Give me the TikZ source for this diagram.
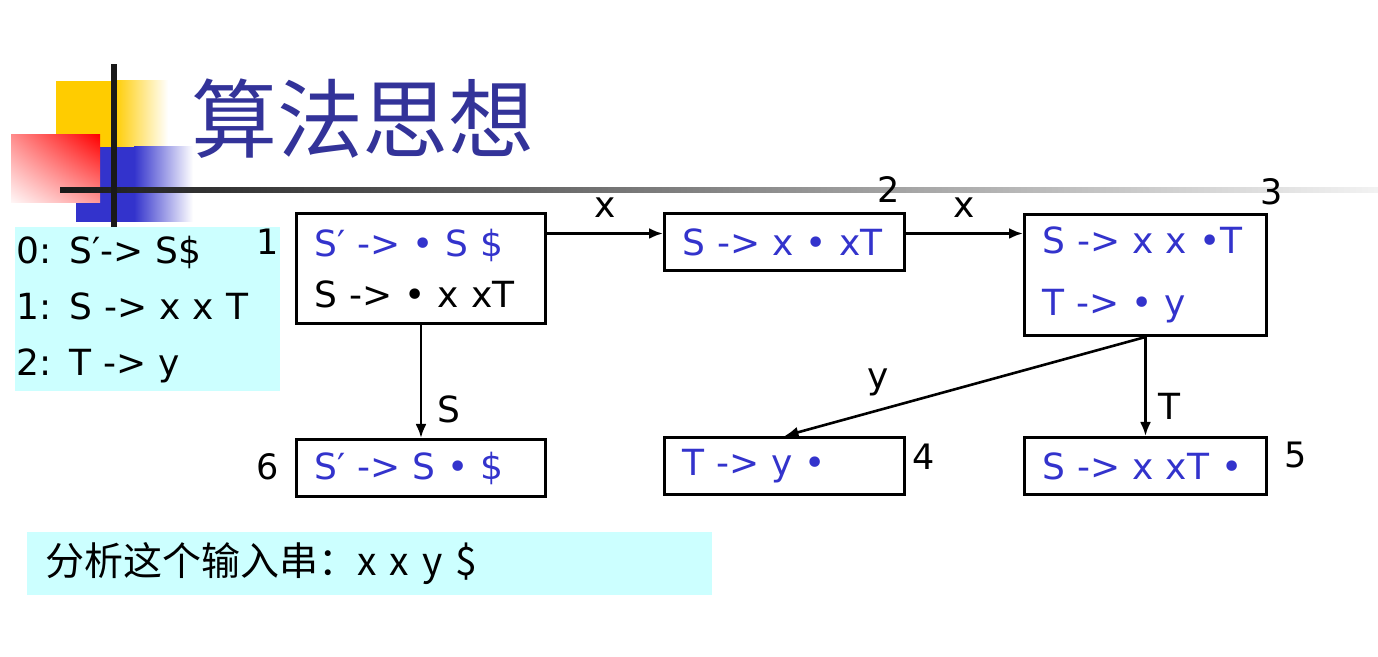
\documentclass[tikz,border=0pt]{standalone}
\usepackage{fontspec}
\setmainfont{DejaVu Sans}
\newfontfamily\cjk{Noto Sans CJK SC}
\usetikzlibrary{arrows.meta,shadings}
\definecolor{itemblue}{HTML}{3333CC}
\definecolor{titleblue}{HTML}{333399}
\definecolor{lightcyan}{HTML}{CCFFFF}
\definecolor{decoyellow}{HTML}{FFCC00}
\tikzset{
  state/.style={draw, line width=1.5pt, anchor=north west, inner xsep=9pt, inner ysep=0pt,
    align=left, font=\fontsize{18}{25.5}\selectfont},
  num/.style={font=\fontsize{17.5}{17.5}\selectfont},
  lbl/.style={font=\fontsize{18}{18}\selectfont},
  flow/.style={-{Latex[length=7pt,width=5.5pt]}, line width=1.3pt},
}
\begin{document}
\begin{tikzpicture}[x=0.5pt,y=-0.5pt]
      \useasboundingbox[fill=white] (0,0) rectangle (1378,657);
      \fill[decoyellow] (56,81) rectangle (114,147);
      \shade[left color=decoyellow, right color=white] (114,81) rectangle (168,147);
      \fill[itemblue] (76,147) rectangle (134,222);
      \shade[left color=itemblue, right color=white] (134,147) rectangle (193,222);
      \shade[upper right=red, upper left=red!45, lower right=red!40, lower left=red!3]
        (11,135) rectangle (100,203);
      \shade[left color=black!90, right color=black!5] (60,188) rectangle (1378,193);
      \fill[black!90] (111,64) rectangle (117,227);
      \node[text=titleblue, font=\cjk\fontsize{43}{43}\selectfont, inner sep=0pt] (title) at (363,119) {算法思想};
      \node[fill=lightcyan, anchor=north west, text width=131.5pt, minimum height=82pt,
        inner xsep=0.5pt, inner ysep=0pt, align=left, font=\fontsize{18}{28}\selectfont]
        (grammar) at (15,227) {0: S′-> S\$\\1: S -> x x T\\2: T -> y};
      \node[state, text width=106.5pt, minimum height=55pt] (1) at (295,212)
        {\textcolor{itemblue}{S′ -> • S \$}\\S -> • x xT};
      \node[state, text=itemblue, text width=102pt, minimum height=28.5pt] (2) at (663,212)
        {S -> x • xT};
      \node[state, text=itemblue, text width=103pt, minimum height=60.5pt] (3) at (1023,213)
        {S -> x x •T\\[5.5pt]T -> • y};
      \node[state, text=itemblue, text width=102pt, minimum height=28.5pt] (4) at (663,436)
        {T -> y •};
      \node[state, text=itemblue, text width=103pt, minimum height=28.5pt] (5) at (1023,436)
        {S -> x xT •};
      \node[state, text=itemblue, text width=106.5pt, minimum height=28.5pt] (6) at (295,438)
        {S′ -> S • \$};
      \node[num] (n1) at (268,242) {1};
      \node[num] (n2) at (889,190) {2};
      \node[num] (n3) at (1272,192) {3};
      \node[num] (n4) at (924,457) {4};
      \node[num] (n5) at (1296,455) {5};
      \node[num] (n6) at (268,467) {6};
      \begin{scope}[flow]
        \draw ([yshift=4.25pt]2.west -| 1.east) -- ([yshift=4.25pt]2.west)
          node[lbl, midway, above=4pt] {x};
        \draw ([yshift=4.25pt]2.east) -- ([yshift=4.25pt]2.east -| 3.west)
          node[lbl, midway, above=4pt] {x};
        \draw (1.south) -- (6.north) node[lbl, pos=0.75, right=4.5pt] {S};
        \draw (3.south) -- (4.north) node[lbl, pos=0.74, above=3pt] {y};
        \draw (3.south) -- (5.north) node[lbl, pos=0.7, right=2.5pt] {T};
      \end{scope}
      \node[fill=lightcyan, anchor=north west, text width=324.5pt, minimum height=31.5pt,
        inner xsep=9pt, inner ysep=0pt, align=left, font=\cjk\fontsize{19.5}{19.5}\selectfont]
        (input) at (27,532) {分析这个输入串：x x y \$};
    \end{tikzpicture}
\end{document}
